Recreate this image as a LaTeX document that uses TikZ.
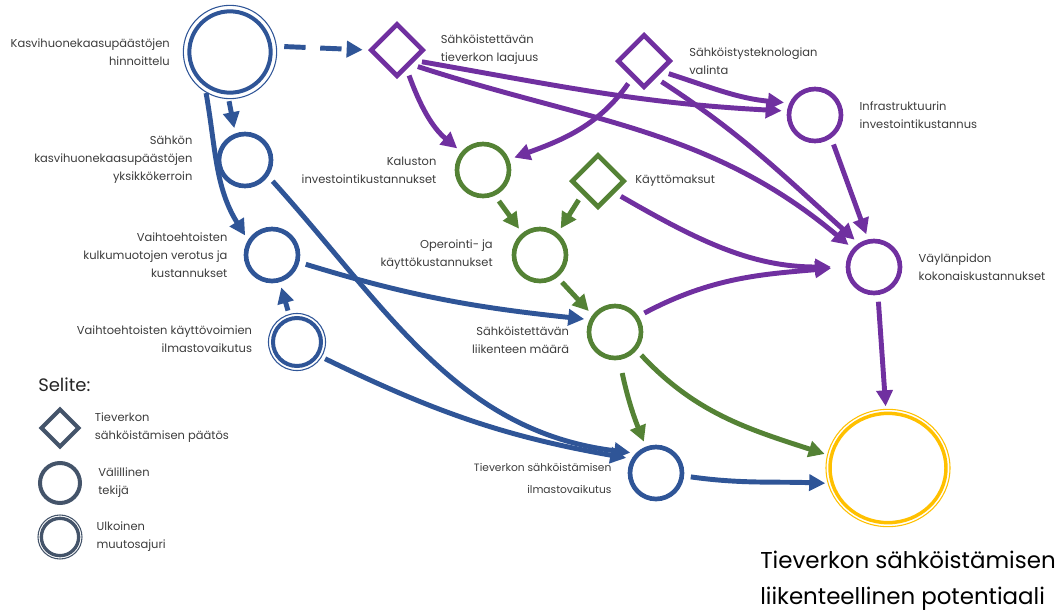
\documentclass[tikz,border=0pt]{standalone}
\usepackage{fontspec}
\setmainfont{Poppins}
\usetikzlibrary{arrows.meta, positioning, shapes.geometric}

\definecolor{TieBlue}{RGB}{47, 85, 151}
\definecolor{TiePurple}{RGB}{112, 48, 160}
\definecolor{TieGreen}{RGB}{84, 130, 53}
\definecolor{TieYellow}{RGB}{255, 192, 0}
\definecolor{LegendGray}{RGB}{68, 84, 106}
\definecolor{TextGray}{RGB}{60, 60, 60}

\begin{document}
\begin{tikzpicture}[
    x=0.75pt, y=-0.75pt,
    factor/.style={circle, draw=#1, line width=3.5pt, minimum size=39pt, inner sep=0pt},
    driver/.style={circle, draw=#1, line width=3pt, inner sep=0pt},
    ring/.style={draw=#1, line width=0.8pt},
    decision/.style={diamond, draw=#1, line width=3.5pt, minimum size=40pt, inner sep=0pt},
    txt/.style={font=\fontsize{8.6}{13.6}\selectfont, text=TextGray, inner sep=0pt},
    link/.style={-{Triangle[length=12pt, width=12pt]}, line width=3.7pt, draw=#1,
                 shorten <=5pt, shorten >=4pt}
]
\useasboundingbox (0,0) rectangle (1058,615);

% ulkoiset muutosajurit
\node[driver=TieBlue, minimum size=61pt] (hinta) at (230,52) {};
\draw[ring=TieBlue] (hinta) circle[radius=35pt];
\node[driver=TieBlue, minimum size=36pt] (kvoima) at (297,342) {};
\draw[ring=TieBlue] (kvoima) circle[radius=21.4pt];

% paatokset
\node[decision=TiePurple] (laajuus) at (397,50) {};
\node[decision=TiePurple] (tekno) at (644,61) {};
\node[decision=TieGreen] (maksut) at (598,181) {};

% valilliset tekijat
\node[factor=TieBlue] (kerroin) at (245,160) {};
\node[factor=TieBlue] (verot) at (272,255) {};
\node[factor=TieBlue] (ilmasto) at (656,473) {};
\node[factor=TieGreen] (kalusto) at (483,170) {};
\node[factor=TieGreen] (oper) at (540,255) {};
\node[factor=TieGreen] (maara) at (615,332) {};
\node[factor=TiePurple] (infra) at (815,115) {};
\node[factor=TiePurple] (vayla) at (874,267) {};

% lopputulos
\node[ellipse, draw=TieYellow, line width=2.6pt, minimum width=87pt, minimum height=82pt,
      inner sep=0pt] (final) at (888,468) {};
\draw[ring=TieYellow] (final) ellipse[x radius=46.5pt, y radius=44pt];

% tekstit
\node[txt, align=right, left=13pt of hinta] (hintaT) {Kasvihuonekaasupäästöjen\\hinnoittelu};
\node[txt, align=right, left=18pt of kerroin] (kerroinT) {Sähkön\\kasvihuonekaasupäästöjen\\yksikkökerroin};
\node[txt, align=right, left=12pt of verot] (verotT) {Vaihtoehtoisten\\kulkumuotojen verotus ja\\kustannukset};
\node[txt, align=right, left=14pt of kvoima, yshift=2pt] (kvoimaT) {Vaihtoehtoisten käyttövoimien\\ilmastovaikutus};
\node[txt, align=left, right=11pt of laajuus] (laajuusT) {Sähköistettävän\\tieverkon laajuus};
\node[txt, align=left, right=12pt of tekno] (teknoT) {Sähköistysteknologian\\valinta};
\node[txt, align=left, right=12pt of infra] (infraT) {Infrastruktuurin\\investointikustannus};
\node[txt, align=right, left=13.5pt of kalusto] (kalustoT) {Kaluston\\investointikustannukset};
\node[txt, align=left, right=6pt of maksut] (maksutT) {Käyttömaksut};
\node[txt, align=right, left=14pt of oper] (operT) {Operointi- ja\\käyttökustannukset};
\node[txt, align=right, left=13pt of maara, yshift=-6pt] (maaraT) {Sähköistettävän\\liikenteen määrä};
\node[txt, align=left, right=12pt of vayla] (vaylaT) {Väylänpidon\\kokonaiskustannukset};
\node[txt, font=\fontsize{8}{17}\selectfont, align=right, left=12pt of ilmasto, yshift=-4pt] (ilmastoT)
    {Tieverkon sähköistämisen\\ilmastovaikutus};
\node[font=\fontsize{17.2}{26.5}\selectfont, text=black, align=left, anchor=north west, inner sep=0pt]
    (finalT) at (760,551) {Tieverkon sähköistämisen\\liikenteellinen potentiaali};

% selite
\node[txt, font=\fontsize{13.5}{15}\selectfont, anchor=west, text=black!85] (selite) at (38,385) {Selite:};
\node[decision=LegendGray, line width=3pt, minimum size=29pt] (legDec) at (60,428) {};
\node[txt, align=left, right=10pt of legDec] (legDecT) {Tieverkon\\sähköistämisen päätös};
\node[factor=LegendGray, line width=3pt, minimum size=30pt] (legFac) at (60,483) {};
\node[txt, align=left, right=12pt of legFac] (legFacT) {Välillinen\\tekijä};
\node[driver=LegendGray, line width=2.5pt, minimum size=28pt] (legExt) at (60,537) {};
\draw[ring=LegendGray] (legExt) circle[radius=16.5pt];
\node[txt, align=left, right=12pt of legExt] (legExtT) {Ulkoinen\\muutosajuri};

% siniset yhteydet
\draw[link=TieBlue, dash pattern=on 16pt off 11pt, shorten <=9pt] (hinta.8) -- (laajuus.west);
\draw[link=TieBlue] (hinta.-93) -- (kerroin.110);
\draw[link=TieBlue] (hinta.-126) to[out=-80, in=122] (verot.148);
\draw[link=TieBlue] (kerroin.-35) to[out=-48, in=173] (ilmasto.136);
\draw[link=TieBlue] (verot.-15) to[out=-17, in=174] (maara.154);
\draw[link=TieBlue] (kvoima.106) -- (verot.-74);
\draw[link=TieBlue] (kvoima.-32) to[out=-26, in=170] (ilmasto.150);
\draw[link=TieBlue] (ilmasto.-6) to[out=-8, in=178] (final.195);

% violetit yhteydet
\draw[link=TiePurple] (laajuus.-63) to[out=-70, in=140] (kalusto.140);
\draw[link=TiePurple] (laajuus.-30) to[out=-10, in=177] (infra.172);
\draw[link=TiePurple] (laajuus.-45) to[out=-18, in=140] (vayla.139);
\draw[link=TiePurple] (tekno.-125) to[out=-125, in=20] (kalusto.22);
\draw[link=TiePurple] (tekno.-30) to[out=-18, in=175] (infra.155);
\draw[link=TiePurple] (tekno.-55) to[out=-33, in=138] (vayla.123);
\draw[link=TiePurple] (infra.-55) -- (vayla.102);
\draw[link=TiePurple, shorten >=11pt] (maksut.-35) to[out=-30, in=180] (vayla.180);
\draw[link=TiePurple, shorten >=11pt] (maara.34) to[out=28, in=185] (vayla.180);
\draw[link=TiePurple] (vayla.-82) -- (final.92);

% vihreat yhteydet
\draw[link=TieGreen] (kalusto.-65) -- (oper.129);
\draw[link=TieGreen] (maksut.-140) -- (oper.51);
\draw[link=TieGreen] (oper.-52) -- (maara.143);
\draw[link=TieGreen, shorten <=10pt] (maara.-81) to[bend right=5] (ilmasto.111);
\draw[link=TieGreen] (maara.-40) to[out=-47, in=162] (final.168);
\end{tikzpicture}
\end{document}
